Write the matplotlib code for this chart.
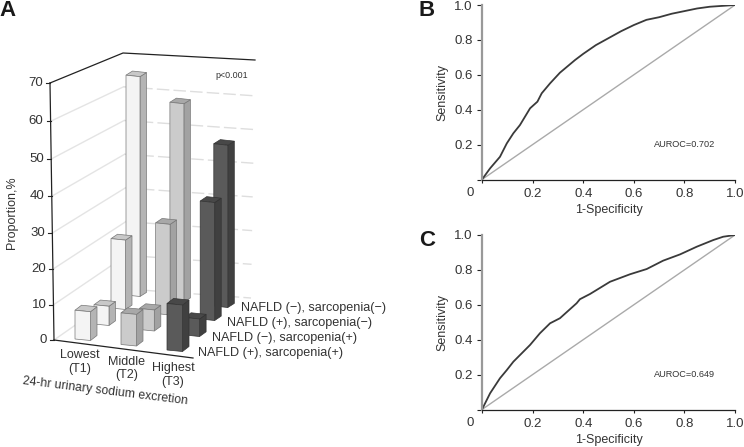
import numpy as np
import matplotlib
matplotlib.use("Agg")
import matplotlib.pyplot as plt
from matplotlib.patches import Polygon

plt.rcParams['font.family'] = ['Liberation Sans', 'DejaVu Sans']

#panel A data, rows go from the front of the floor to the back
categories = ["Lowest\n(T1)", "Middle\n(T2)", "Highest\n(T3)"]
series_names = ["NAFLD (+), sarcopenia(+)", "NAFLD (\u2212), sarcopenia(+)",
                "NAFLD (+), sarcopenia(\u2212)", "NAFLD (\u2212), sarcopenia(\u2212)"]
t1_values = [8.2, 5.5, 19.6, 60.3]
t2_values = [9.0, 6.0, 25.5, 54.6]
t3_values = [13.2, 5.0, 33.0, 45.0]
y_ticks_a = [0, 10, 20, 30, 40, 50, 60, 70]

#panel B and C curves
roc_x_b = [0, .032, .071, .098, .124, .15, .17, .19, .219, .236, .269, .308, .368, .40, .45, .50,
           .55, .60, .65, .70, .75, .80, .85, .90, .95, 1]
roc_y_b = [0, .064, .13, .207, .265, .312, .36, .408, .446, .494, .551, .612, .685, .72, .77, .81,
           .85, .885, .915, .93, .95, .965, .98, .99, .995, 1]
roc_x_c = [0, .032, .071, .098, .124, .157, .19, .229, .269, .308, .374, .387, .427, .453, .506,
           .585, .651, .716, .783, .849, .914, .953, 1]
roc_y_c = [0, .093, .179, .226, .274, .322, .37, .437, .494, .523, .609, .632, .662, .685, .732,
           .775, .805, .853, .889, .933, .971, .99, 1]
ticks_roc = [0, .2, .4, .6, .8, 1.0]

text_col = "#333333"
fig = plt.figure(figsize=(7.44, 4.47), dpi=100)

#full figure axes in pixels for the fake 3d panel
ax = fig.add_axes([0, 0, 1, 1])
ax.set_xlim(0, 744)
ax.set_ylim(447, 0)
ax.axis("off")


def lift(v):
    #px height of a value, spacing grows a bit towards the top
    return 3.488*v + 0.00262*v*v


def axis_point(v):
    return 54 - v*4/70, 340 - lift(v)


def back_corner(v):
    return 127 - v*4/70, 289 - v*3.37


#walls
for v in y_ticks_a:
    px, py = axis_point(v)
    cx, cy = back_corner(v)
    ex = 251 + v*4/70
    ey = 298 - v*3.37
    if v < 70:
        ax.plot([px, cx], [py, cy], color="#e4e4e4", lw=1, zorder=1)
        ax.plot([cx, ex], [cy, ey], color="#dedede", lw=1, dashes=(9, 3), zorder=1)
    ax.plot([px-4, px], [py, py], color="#222222", lw=0.8, zorder=3)
    ax.text(px-7, py, str(v), ha="right", va="center", fontsize=9.5, color=text_col)

x_top, y_top = axis_point(70)
x_bot, y_bot = axis_point(0)
ax.plot([x_bot, x_top], [y_bot, y_top], color="#222222", lw=0.9, zorder=3)
ax.plot([x_top, 123, 255], [y_top, 53, 60], color="#222222", lw=0.9, zorder=3)
ax.plot([x_bot, 193], [y_bot, 358], color="#222222", lw=0.9, zorder=20)

#colours per category: front, side, top
face_cols = ["#f4f4f4", "#cbcbcb", "#5a5a5a"]
side_cols = ["#b4b4b4", "#a2a2a2", "#404040"]
top_cols = ["#c8c8c8", "#a8a8a8", "#484848"]
values = [t1_values, t2_values, t3_values]
z = 5
for r in [3, 2, 1, 0]:
    bar_w = 15.5 - 0.5*r
    depth_x, depth_y = 6.5, -5 + 0.3*r
    for i in range(3):
        x0 = 75 + (46 - 0.7*r)*i + [0, 19, 36, 51][r]
        y0 = 339 + 5.5*i - [0, 15, 31, 44][r]
        h = lift(values[i][r])
        slope = 1.5
        front = [(x0, y0), (x0+bar_w, y0+slope), (x0+bar_w, y0+slope-h), (x0, y0-h)]
        side = [(x0+bar_w, y0+slope), (x0+bar_w+depth_x, y0+slope+depth_y),
                (x0+bar_w+depth_x, y0+slope+depth_y-h), (x0+bar_w, y0+slope-h)]
        top = [(x0, y0-h), (x0+bar_w, y0+slope-h),
               (x0+bar_w+depth_x, y0+slope+depth_y-h), (x0+depth_x, y0+depth_y-h)]
        for pts, col in [(side, side_cols[i]), (top, top_cols[i]), (front, face_cols[i])]:
            ax.add_patch(Polygon(pts, closed=True, facecolor=col, edgecolor="#777777" if i < 2 else "#333333",
                                 lw=0.5, zorder=z))
        z += 1

for i, lab in enumerate(categories):
    ax.text(80 + 46.5*i, 362 + 6.5*i, lab, ha="center", va="center", fontsize=9,
            color=text_col, linespacing=1.15)
for r, name in enumerate(series_names):
    ax.text(198 + 14.4*r, 353 - 15*r, name, ha="left", va="center", fontsize=9.1,
            color=text_col, zorder=30)

ax.text(105, 391, "24-hr urinary sodium excretion", ha="center", va="center", fontsize=8.8,
        color=text_col, rotation=-7, rotation_mode="anchor")
ax.text(12, 213, "Proportion,%", ha="center", va="center", rotation=90, fontsize=9, color=text_col)
ax.text(215, 76, "p<0.001", ha="left", va="center", fontsize=6.4, color=text_col)

for lab, lx, ly in [("A", 7, 11), ("B", 427, 10), ("C", 427, 241)]:
    ax.text(lx, ly, lab, ha="center", va="center", fontsize=16, fontweight="bold", color="#1a1a1a")


def draw_roc(left, top, right, bottom, xs, ys, note):
    a = fig.add_axes([left/744, 1-bottom/447, (right-left)/744, (bottom-top)/447])
    a.plot([0, 1], [0, 1], color="#aaaaaa", lw=1)
    a.plot(xs, ys, color="#3a3a3a", lw=1.3)
    a.set_xlim(0, 1)
    a.set_ylim(0, 1)
    a.patch.set_alpha(0)
    a.spines["top"].set_visible(False)
    a.spines["right"].set_visible(False)
    a.spines["left"].set_color("#999999")
    a.spines["left"].set_linewidth(1.6)
    a.spines["bottom"].set_color("#222222")
    a.spines["bottom"].set_linewidth(0.9)
    a.set_xticks(ticks_roc)
    a.set_xticklabels(["", "0.2", "0.4", "0.6", "0.8", "1.0"], fontsize=9.5, color=text_col)
    a.set_yticks(ticks_roc)
    a.set_yticklabels(["", "0.2", "0.4", "0.6", "0.8", "1.0"], fontsize=9.5, color=text_col)
    a.tick_params(axis="y", length=3.6, width=0.8, color="#222222", pad=3)
    a.tick_params(axis="x", length=2.5, width=0.8, color="#222222", pad=3.4)
    #label placed by hand, the panel C one runs out of the figure otherwise
    a.text(0.5, -0.175, "1-Specificity", transform=a.transAxes, ha="center", va="center",
           fontsize=9, color=text_col)
    a.set_ylabel("Sensitivity", fontsize=9, color=text_col, labelpad=4)
    a.text(-0.047, -0.08, "0", ha="center", va="center", fontsize=9.5, color=text_col)
    a.text(0.68, 0.2, note, ha="left", va="center", fontsize=6.6, color=text_col)


draw_roc(482, 5, 735, 179.5, roc_x_b, roc_y_b, "AUROC=0.702")
draw_roc(482, 235, 735, 409.5, roc_x_c, roc_y_c, "AUROC=0.649")

fig.savefig("out.png", dpi=100)
